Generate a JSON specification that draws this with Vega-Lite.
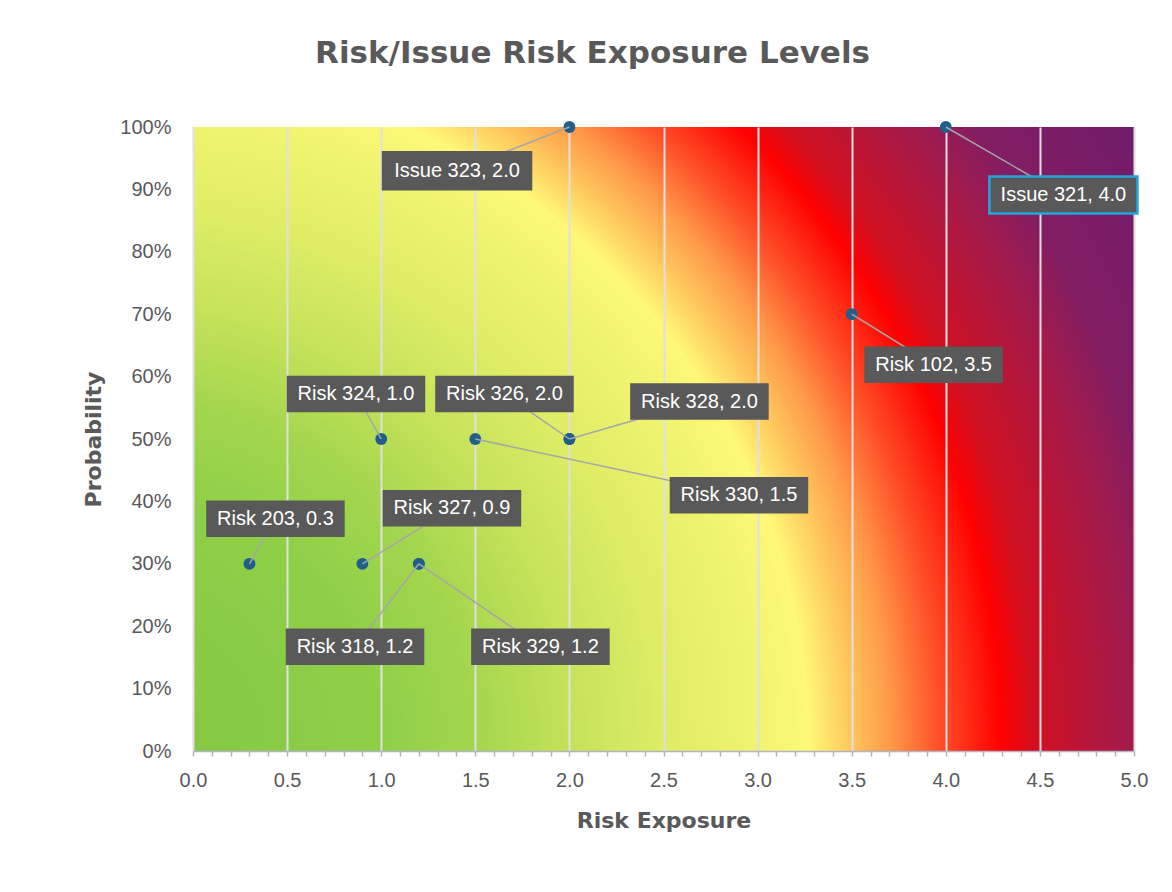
{
  "$schema": "https://vega.github.io/schema/vega-lite/v6.json",
  "width": 941,
  "height": 624,
  "autosize": "none",
  "padding": {"left": 193, "top": 127, "right": 38, "bottom": 141},
  "background": "white",
  "title": {
    "text": "Risk/Issue Risk Exposure Levels",
    "font": "DejaVu Sans",
    "fontSize": 31,
    "fontWeight": "bold",
    "color": "#595959",
    "anchor": "middle",
    "frame": "group",
    "dx": -71,
    "offset": 47
  },
  "view": {
    "stroke": null,
    "fill": {
      "gradient": "radial",
      "x1": -0.0744, "y1": 0.8316, "r1": 0,
      "x2": -0.0744, "y2": 0.8316, "r2": 1.27,
      "stops": [
        {"offset": 0, "color": "#84c743"},
        {"offset": 0.0586, "color": "#86c844"},
        {"offset": 0.216, "color": "#8fcf48"},
        {"offset": 0.295, "color": "#a3d64e"},
        {"offset": 0.373, "color": "#c4e25a"},
        {"offset": 0.452, "color": "#dfec66"},
        {"offset": 0.531, "color": "#f0f470"},
        {"offset": 0.574, "color": "#fff878"},
        {"offset": 0.605, "color": "#ffcc60"},
        {"offset": 0.643, "color": "#ff9848"},
        {"offset": 0.683, "color": "#ff5028"},
        {"offset": 0.735, "color": "#ff0000"},
        {"offset": 0.762, "color": "#d21020"},
        {"offset": 0.842, "color": "#a21a4c"},
        {"offset": 0.885, "color": "#821d62"},
        {"offset": 1, "color": "#701c6c"}
      ]
    }
  },
  "data": {
    "values": [
      {"name": "Issue 323", "exposure": 2.0, "probability": 1.0, "lx": 1.403, "ly": 0.930},
      {"name": "Issue 321", "exposure": 4.0, "probability": 1.0, "lx": 4.625, "ly": 0.891},
      {"name": "Risk 102", "exposure": 3.5, "probability": 0.7, "lx": 3.935, "ly": 0.619},
      {"name": "Risk 324", "exposure": 1.0, "probability": 0.5, "lx": 0.866, "ly": 0.572},
      {"name": "Risk 326", "exposure": 2.0, "probability": 0.5, "lx": 1.655, "ly": 0.572},
      {"name": "Risk 328", "exposure": 2.0, "probability": 0.5, "lx": 2.691, "ly": 0.560},
      {"name": "Risk 330", "exposure": 1.5, "probability": 0.5, "lx": 2.901, "ly": 0.410},
      {"name": "Risk 203", "exposure": 0.3, "probability": 0.3, "lx": 0.438, "ly": 0.372},
      {"name": "Risk 327", "exposure": 0.9, "probability": 0.3, "lx": 1.376, "ly": 0.389},
      {"name": "Risk 318", "exposure": 1.2, "probability": 0.3, "lx": 0.861, "ly": 0.167},
      {"name": "Risk 329", "exposure": 1.2, "probability": 0.3, "lx": 1.846, "ly": 0.167}
    ]
  },
  "transform": [
    {"calculate": "datum.name + ', ' + format(datum.exposure, '.1f')", "as": "label"}
  ],
  "layer": [
    {
      "mark": {"type": "point", "filled": true, "shape": "circle", "size": 140, "color": "#1f5f8a", "opacity": 1},
      "encoding": {
        "x": {
          "field": "exposure", "type": "quantitative", "title": "Risk Exposure",
          "scale": {"domain": [0, 5], "nice": false, "zero": false},
          "axis": {
            "values": [0,0.1,0.2,0.3,0.4,0.5,0.6,0.7,0.8,0.9,1,1.1,1.2,1.3,1.4,1.5,1.6,1.7,1.8,1.9,2,2.1,2.2,2.3,2.4,2.5,2.6,2.7,2.8,2.9,3,3.1,3.2,3.3,3.4,3.5,3.6,3.7,3.8,3.9,4,4.1,4.2,4.3,4.4,4.5,4.6,4.7,4.8,4.9,5],
            "labelExpr": "abs(datum.value*2 - round(datum.value*2)) < 0.001 ? format(datum.value, '.1f') : ''",
            "labelOverlap": false, "labelFlush": false,
            "labelFont": "Liberation Sans", "labelFontSize": 20, "labelColor": "#595959", "labelPadding": 14,
            "grid": true, "gridColor": "#e0e0e0", "gridWidth": 2,
            "gridOpacity": {"condition": {"test": "abs(datum.value*2 - round(datum.value*2)) > 0.001", "value": 0}, "value": 1},
            "domainColor": "#b4b4c4", "domainWidth": 1.5,
            "tickColor": "#b4b4c4", "tickWidth": 1.5, "tickSize": 5,
            "titleFont": "DejaVu Sans", "titleFontSize": 22, "titleFontWeight": "bold", "titleColor": "#595959", "titlePadding": 20
          }
        },
        "y": {
          "field": "probability", "type": "quantitative", "title": "Probability",
          "scale": {"domain": [0, 1], "nice": false},
          "axis": {
            "values": [0,0.1,0.2,0.3,0.4,0.5,0.6,0.7,0.8,0.9,1],
            "format": ".0%", "grid": false, "domain": false, "ticks": false, "labelPadding": 22,
            "labelFont": "Liberation Sans", "labelFontSize": 20, "labelColor": "#595959",
            "titleFont": "DejaVu Sans", "titleFontSize": 22, "titleFontWeight": "bold", "titleColor": "#595959", "titlePadding": 14
          }
        }
      }
    },
    {
      "mark": {"type": "rule", "color": "#a6a6a6", "strokeWidth": 1.5},
      "encoding": {
        "x": {
          "field": "exposure", "type": "quantitative", "title": "Risk Exposure",
          "scale": {"domain": [0, 5], "nice": false, "zero": false},
          "axis": {
            "values": [0,0.1,0.2,0.3,0.4,0.5,0.6,0.7,0.8,0.9,1,1.1,1.2,1.3,1.4,1.5,1.6,1.7,1.8,1.9,2,2.1,2.2,2.3,2.4,2.5,2.6,2.7,2.8,2.9,3,3.1,3.2,3.3,3.4,3.5,3.6,3.7,3.8,3.9,4,4.1,4.2,4.3,4.4,4.5,4.6,4.7,4.8,4.9,5],
            "labelExpr": "abs(datum.value*2 - round(datum.value*2)) < 0.001 ? format(datum.value, '.1f') : ''",
            "labelOverlap": false, "labelFlush": false,
            "labelFont": "Liberation Sans", "labelFontSize": 20, "labelColor": "#595959", "labelPadding": 14,
            "grid": true, "gridColor": "#e0e0e0", "gridWidth": 2,
            "gridOpacity": {"condition": {"test": "abs(datum.value*2 - round(datum.value*2)) > 0.001", "value": 0}, "value": 1},
            "domainColor": "#b4b4c4", "domainWidth": 1.5,
            "tickColor": "#b4b4c4", "tickWidth": 1.5, "tickSize": 5,
            "titleFont": "DejaVu Sans", "titleFontSize": 22, "titleFontWeight": "bold", "titleColor": "#595959", "titlePadding": 20
          }
        },
        "y": {
          "field": "probability", "type": "quantitative", "title": "Probability",
          "scale": {"domain": [0, 1], "nice": false},
          "axis": {
            "values": [0,0.1,0.2,0.3,0.4,0.5,0.6,0.7,0.8,0.9,1],
            "format": ".0%", "grid": false, "domain": false, "ticks": false, "labelPadding": 22,
            "labelFont": "Liberation Sans", "labelFontSize": 20, "labelColor": "#595959",
            "titleFont": "DejaVu Sans", "titleFontSize": 22, "titleFontWeight": "bold", "titleColor": "#595959", "titlePadding": 14
          }
        },
        "x2": {"field": "lx"},
        "y2": {"field": "ly"}
      }
    },
    {
      "mark": {"type": "point", "shape": "M-1,-0.25H1V0.25H-1Z", "filled": true, "fill": "#595959", "opacity": 1, "strokeWidth": 2.5},
      "encoding": {
        "x": {
          "field": "lx", "type": "quantitative", "title": "Risk Exposure",
          "scale": {"domain": [0, 5], "nice": false, "zero": false},
          "axis": {
            "values": [0,0.1,0.2,0.3,0.4,0.5,0.6,0.7,0.8,0.9,1,1.1,1.2,1.3,1.4,1.5,1.6,1.7,1.8,1.9,2,2.1,2.2,2.3,2.4,2.5,2.6,2.7,2.8,2.9,3,3.1,3.2,3.3,3.4,3.5,3.6,3.7,3.8,3.9,4,4.1,4.2,4.3,4.4,4.5,4.6,4.7,4.8,4.9,5],
            "labelExpr": "abs(datum.value*2 - round(datum.value*2)) < 0.001 ? format(datum.value, '.1f') : ''",
            "labelOverlap": false, "labelFlush": false,
            "labelFont": "Liberation Sans", "labelFontSize": 20, "labelColor": "#595959", "labelPadding": 14,
            "grid": true, "gridColor": "#e0e0e0", "gridWidth": 2,
            "gridOpacity": {"condition": {"test": "abs(datum.value*2 - round(datum.value*2)) > 0.001", "value": 0}, "value": 1},
            "domainColor": "#b4b4c4", "domainWidth": 1.5,
            "tickColor": "#b4b4c4", "tickWidth": 1.5, "tickSize": 5,
            "titleFont": "DejaVu Sans", "titleFontSize": 22, "titleFontWeight": "bold", "titleColor": "#595959", "titlePadding": 20
          }
        },
        "y": {
          "field": "ly", "type": "quantitative", "title": "Probability",
          "scale": {"domain": [0, 1], "nice": false},
          "axis": {
            "values": [0,0.1,0.2,0.3,0.4,0.5,0.6,0.7,0.8,0.9,1],
            "format": ".0%", "grid": false, "domain": false, "ticks": false, "labelPadding": 22,
            "labelFont": "Liberation Sans", "labelFontSize": 20, "labelColor": "#595959",
            "titleFont": "DejaVu Sans", "titleFontSize": 22, "titleFontWeight": "bold", "titleColor": "#595959", "titlePadding": 14
          }
        },
        "size": {"condition": {"test": "indexof(datum.name, 'Issue') === 0", "value": 21904}, "value": 18496},
        "stroke": {"condition": {"test": "datum.name === 'Issue 321'", "value": "#22a4de"}, "value": "#595959"}
      }
    },
    {
      "mark": {"type": "text", "color": "#ffffff", "font": "Liberation Sans", "fontSize": 20, "align": "center", "baseline": "middle"},
      "encoding": {
        "x": {
          "field": "lx", "type": "quantitative", "title": "Risk Exposure",
          "scale": {"domain": [0, 5], "nice": false, "zero": false},
          "axis": {
            "values": [0,0.1,0.2,0.3,0.4,0.5,0.6,0.7,0.8,0.9,1,1.1,1.2,1.3,1.4,1.5,1.6,1.7,1.8,1.9,2,2.1,2.2,2.3,2.4,2.5,2.6,2.7,2.8,2.9,3,3.1,3.2,3.3,3.4,3.5,3.6,3.7,3.8,3.9,4,4.1,4.2,4.3,4.4,4.5,4.6,4.7,4.8,4.9,5],
            "labelExpr": "abs(datum.value*2 - round(datum.value*2)) < 0.001 ? format(datum.value, '.1f') : ''",
            "labelOverlap": false, "labelFlush": false,
            "labelFont": "Liberation Sans", "labelFontSize": 20, "labelColor": "#595959", "labelPadding": 14,
            "grid": true, "gridColor": "#e0e0e0", "gridWidth": 2,
            "gridOpacity": {"condition": {"test": "abs(datum.value*2 - round(datum.value*2)) > 0.001", "value": 0}, "value": 1},
            "domainColor": "#b4b4c4", "domainWidth": 1.5,
            "tickColor": "#b4b4c4", "tickWidth": 1.5, "tickSize": 5,
            "titleFont": "DejaVu Sans", "titleFontSize": 22, "titleFontWeight": "bold", "titleColor": "#595959", "titlePadding": 20
          }
        },
        "y": {
          "field": "ly", "type": "quantitative", "title": "Probability",
          "scale": {"domain": [0, 1], "nice": false},
          "axis": {
            "values": [0,0.1,0.2,0.3,0.4,0.5,0.6,0.7,0.8,0.9,1],
            "format": ".0%", "grid": false, "domain": false, "ticks": false, "labelPadding": 22,
            "labelFont": "Liberation Sans", "labelFontSize": 20, "labelColor": "#595959",
            "titleFont": "DejaVu Sans", "titleFontSize": 22, "titleFontWeight": "bold", "titleColor": "#595959", "titlePadding": 14
          }
        },
        "text": {"field": "label"}
      }
    }
  ]
}
